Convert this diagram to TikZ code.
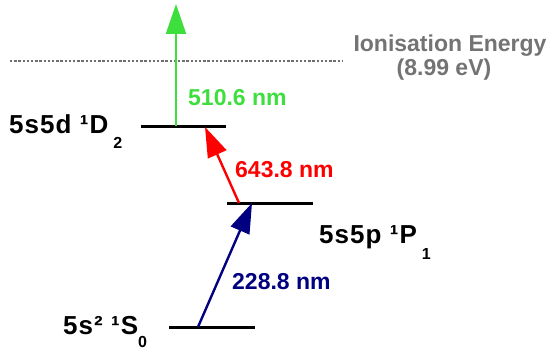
\documentclass[tikz,border=0pt]{standalone}
\usepackage{fontspec}
\setmainfont{Liberation Sans}
\newfontfamily\lblfont[LetterSpace=4]{Liberation Sans Bold}
\usetikzlibrary{arrows.meta}
\definecolor{lvlgreen}{RGB}{61,222,61}
\definecolor{lvlred}{RGB}{255,0,0}
\definecolor{lvlblue}{RGB}{0,0,128}
\definecolor{ionagray}{RGB}{115,115,115}
\definecolor{dotgray}{RGB}{110,110,110}
\newcommand{\lsub}[2]{\raisebox{-#1pt}{\fontsize{16}{16}\selectfont #2}}
\tikzset{
  level/.style={line width=3pt, black},
  trans/.style={line width=2.4pt, -{Triangle[length=30pt,width=20pt]}},
  statelabel/.style={anchor=base west, inner sep=0pt, font=\lblfont\fontsize{26}{26}\selectfont},
  wavelabel/.style={anchor=base west, inner sep=0pt, font=\bfseries\fontsize{23}{23}\selectfont},
  ionlabel/.style={anchor=base, inner sep=0pt, text=ionagray, font=\bfseries\fontsize{23}{23}\selectfont},
}
\begin{document}
\begin{tikzpicture}[x=1pt,y=-1pt]
\useasboundingbox (0,0) rectangle (553,350);
% levels
\coordinate (gL) at (169,327); \coordinate (gR) at (255,327);
\coordinate (pL) at (227,203); \coordinate (pR) at (313,203);
\coordinate (dL) at (141,126); \coordinate (dR) at (226,126);
\draw[level] (gL) -- (gR);
\draw[level] (pL) -- (pR);
\draw[level] (dL) -- (dR);
% ionisation line
\coordinate (ionL) at (10,61); \coordinate (ionR) at (343,61);
\draw[dotgray, line width=2.5pt, dash pattern=on 2.4pt off 1.8pt] (ionL) -- (ionR);
% transition endpoints
\coordinate (bS) at (198,327); \coordinate (bE) at (252,203);
\coordinate (rS) at (239,203); \coordinate (rE) at (205,127);
\coordinate (gS) at (176,126); \coordinate (gE) at (176,4);
\draw[trans, lvlblue] (bS) -- (bE);
\draw[trans, lvlred] (rS) -- (rE);
\draw[trans, lvlgreen] (gS) -- (gE);
% state labels
\node[statelabel] (sD) at (9,133) {5s5d ¹D\hspace{5pt}\lsub{15}{2}};
\node[statelabel] (sP) at (319,243) {5s5p ¹P\hspace{5pt}\lsub{16}{1}};
\node[statelabel] (sS) at (63,334) {5s² ¹S\lsub{13}{0}};
% wavelength labels
\node[wavelabel, text=lvlgreen] (wG) at (188,105) {510.6 nm};
\node[wavelabel, text=lvlred] (wR) at (235,177) {643.8 nm};
\node[wavelabel, text=lvlblue] (wB) at (232,289) {228.8 nm};
% ionisation labels
\node[ionlabel] (iE) at (450,52) {Ionisation Energy};
\node[ionlabel] (iV) at (444,76) {(8.99 eV)};
\end{tikzpicture}
\end{document}
